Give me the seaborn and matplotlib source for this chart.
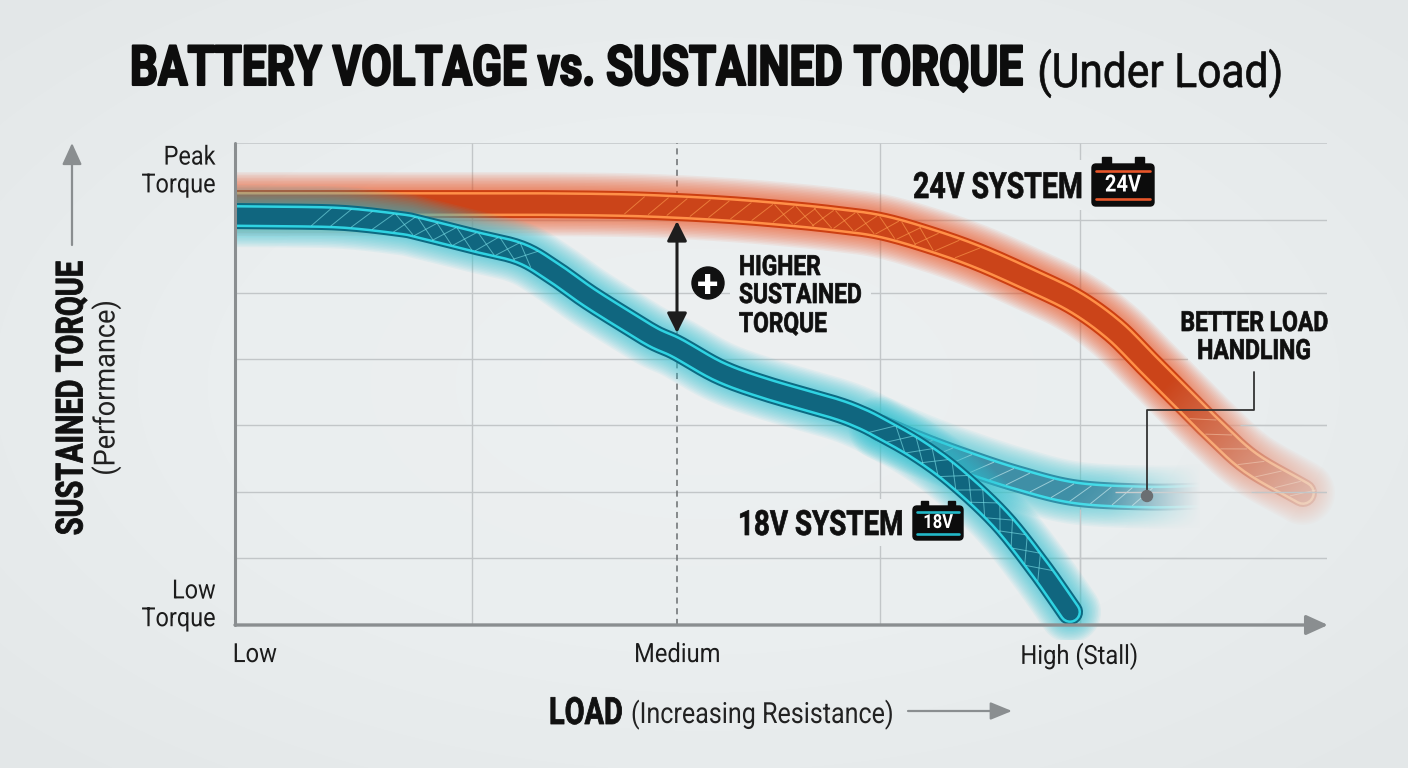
import numpy as np
import matplotlib
matplotlib.use('Agg')
import matplotlib.pyplot as plt
import matplotlib.patheffects as pe
from matplotlib.colors import LinearSegmentedColormap
from matplotlib.collections import LineCollection
from matplotlib.patches import FancyBboxPatch, Rectangle, Circle
from matplotlib.transforms import Affine2D, IdentityTransform, Bbox
import seaborn as sns

# values: load and torque both on a 0-100 scale
load_24v = [0, 8.7, 17.86, 27.01, 35.26, 40.48, 45.33, 49.91, 54.49, 59.07, 63.64, 68.04, 72.8, 76.92, 80.49, 83.52, 86.9, 89.65, 93.04, 97.8]
torque_24v = [87.34, 87.34, 87.34, 87.34, 87.14, 86.72, 86.1, 85.27, 84.23, 82.78, 79.88, 76.35, 71.58, 67.01, 61.2, 54.36, 46.68, 40.46, 33.61, 27.39]

load_18v = [0, 5.04, 10.07, 15.11, 16.94, 21.7, 26.1, 29.12, 32.23, 35.26, 38.28, 40.48, 44.41, 48.72, 54.76, 57.23, 59.07, 62.45, 65.84, 70.05, 73.63, 76.47]
torque_18v = [84.85, 84.75, 84.44, 83.2, 82.37, 79.67, 77.18, 73.24, 68.26, 63.9, 59.75, 57.47, 52.49, 48.96, 45.02, 42.95, 40.87, 36.51, 30.91, 21.99, 11.83, 2.7]

load_18v_fork = [59.07, 62.73, 66.67, 71.7, 77.0, 83.52, 88.65]
torque_18v_fork = [40.87, 37.34, 34.02, 30.29, 27.39, 26.56, 26.76]

grid_load = [21.7, 59.1, 77.4]
grid_medium = 40.5
grid_torque = [84.0, 68.9, 55.2, 41.5, 27.6, 13.9]

x_ticks = [1.8, 40.5, 77.3]
x_tick_labels = ['Low', 'Medium', 'High (Stall)']
y_ticks = [95.0, 5.0]
y_tick_labels = ['Peak\nTorque', 'Low\nTorque']

GRID = '#c2c6c8'
AXIS = '#8a8e90'
INK = '#0f0f0f'

sns.set_theme(style='white')
plt.rcParams['font.family'] = ['Roboto', 'DejaVu Sans']

bg_cmap = LinearSegmentedColormap.from_list('bg', ['#edf0f1', '#eaeeef', '#e3e7e8'])


def bg_rgb(x, y):
    d = np.hypot((x - 704) / 704, (y - 384) / 384) / 1.41
    return bg_cmap(d)[..., :3]


class Narrow(pe.AbstractPathEffect):
    # no condensed face is installed, so squeeze the glyph outlines sideways
    def __init__(self, sx, anchor='left', bold=0.0):
        super().__init__()
        self.sx = sx
        self.anchor = anchor
        self.bold = bold

    def draw_path(self, renderer, gc, tpath, affine, rgbFace=None):
        ext = tpath.get_extents()
        cx = {'left': 0, 'center': (ext.x0 + ext.x1) / 2, 'right': ext.x1}[self.anchor]
        squeezed = Affine2D().translate(-cx, 0).scale(self.sx, 1).translate(cx, 0) + affine
        gc0 = renderer.new_gc()
        gc0.copy_properties(gc)
        if self.bold > 0:
            gc0.set_foreground(rgbFace)
            gc0.set_linewidth(self.bold)
        renderer.draw_path(gc0, tpath, squeezed, rgbFace)
        gc0.restore()


def narrow(t, sx, anchor='left', bold=0.0):
    t.set_path_effects([Narrow(sx, anchor, bold)])
    full = t.get_window_extent
    vertical = t.get_rotation() == 90

    def extent(renderer=None, dpi=None):
        b = full(renderer, dpi)
        lo, hi = (b.y0, b.y1) if vertical else (b.x0, b.x1)
        size = (hi - lo) * sx
        start = {'left': lo, 'center': (lo + hi - size) / 2, 'right': hi - size}[anchor]
        if vertical:
            return Bbox([[b.x0, start], [b.x1, start + size]])
        return Bbox([[start, b.y0], [start + size, b.y1]])

    t.get_window_extent = extent
    return t


fig = plt.figure(figsize=(14.08, 7.68), dpi=100)

bg_ax = fig.add_axes([0, 0, 1, 1], zorder=-1)
yy, xx = np.mgrid[0:768, 0:1408]
bg_ax.imshow(bg_rgb(xx + 0.5, yy + 0.5), aspect='auto', interpolation='nearest')
bg_ax.axis('off')

ax = fig.add_axes([235 / 1408, 1 - 625 / 768, 1092 / 1408, 482 / 768])
ax.patch.set_alpha(0)
ax.set_xlim(0, 100)
ax.set_ylim(0, 100)
ax.autoscale(False)
sns.despine(ax=ax, left=True, bottom=True, top=True, right=True)

# layout positions below are given in picture pixels
px = Affine2D().scale(1, -1).translate(0, 768)


def w(pixels):
    return pixels * 0.72


def smooth(x, y, n=14):
    # rounded drawing path through the read points (catmull-rom)
    p = np.column_stack([x, y])
    p = np.vstack([2 * p[0] - p[1], p, 2 * p[-1] - p[-2]])
    out = []
    for i in range(1, len(p) - 2):
        t = np.linspace(0, 1, n, endpoint=False)[:, None]
        out.append(0.5 * (2 * p[i] + (p[i + 1] - p[i - 1]) * t
                          + (2 * p[i - 1] - 5 * p[i] + 4 * p[i + 1] - p[i + 2]) * t ** 2
                          + (3 * p[i] - p[i - 1] - 3 * p[i + 1] + p[i + 2]) * t ** 3))
    out.append(p[-2][None, :])
    out = np.vstack(out)
    return out[:, 0], out[:, 1]


def tube(x, y, glow, edge, rail, body, width, z):
    clip = Rectangle((236, 130), 1130, 510, transform=px)
    sx, sy = smooth(x, y)
    for i in range(12):
        sns.lineplot(x=sx, y=sy, ax=ax, color=glow, linewidth=w(width + 36 - i * 3), alpha=0.07, sort=False,
                     estimator=None, solid_capstyle='round', zorder=z)
        ax.lines[-1].set_clip_path(clip)
    for color, lw in [(edge, width), (rail, width - 4), (body, width - 9)]:
        sns.lineplot(x=sx, y=sy, ax=ax, color=color, linewidth=w(lw), sort=False, estimator=None,
                     solid_capstyle='round', zorder=z)
        ax.lines[-1].set_clip_path(clip)
    return sx, sy


def hatch(x, y, x0, x1, c0, c1, half, color, z, alpha=0.6):
    pts = ax.transData.transform(np.column_stack([x, y]))
    s = np.r_[0, np.cumsum(np.hypot(*np.diff(pts, axis=0).T))]
    t = np.gradient(pts, axis=0)
    t = t / np.hypot(t[:, 0], t[:, 1])[:, None]
    n = np.column_stack([-t[:, 1], t[:, 0]])
    segs = []
    for sv in np.arange(0, s[-1], 21):
        i = min(np.searchsorted(s, sv), len(s) - 1)
        if x0 <= x[i] <= x1:
            segs.append([pts[i] - n[i] * half - t[i] * half * 1.1, pts[i] + n[i] * half + t[i] * half * 1.1])
            if c0 <= x[i] <= c1:
                segs.append([pts[i] + n[i] * half - t[i] * half * 1.1, pts[i] - n[i] * half + t[i] * half * 1.1])
    ax.add_collection(LineCollection(segs, colors=color, linewidths=0.7, alpha=alpha, zorder=z,
                                     transform=IdentityTransform()), autolim=False)


def overlay(x0, x1, y0, y1, alpha_fn, z):
    # paints the page background back over marks, alpha_fn gives the strength per pixel
    yy, xx = np.mgrid[y0:y1, x0:x1]
    rgba = np.dstack([bg_rgb(xx + 0.5, yy + 0.5), alpha_fn(xx + 0.5, yy + 0.5)])
    extent = [(x0 - 235) / 10.92, (x1 - 235) / 10.92, (625 - y1) / 4.82, (625 - y0) / 4.82]
    ax.imshow(rgba, extent=extent, aspect='auto', zorder=z, clip_on=False, interpolation='nearest')


def solid(xx, yy):
    return np.ones_like(xx, dtype=float)


def fork_fade(xx, yy):
    ramp = np.clip((xx - 1105) / 95, 0, 1) ** 1.3
    taper = np.clip((48 - np.abs(yy - 497)) / 15, 0, 1)
    return ramp * taper


def red_fade(xx, yy):
    u = (xx - 1165) * 0.75 + (yy - 385) * 0.66
    return np.clip(u / 260, 0, 1)


# grid, with the gaps it leaves around the labels
ax.hlines(100, 0, 100, color=GRID, lw=1.1, zorder=1)
ax.hlines(grid_torque, 0, 100, color=GRID, lw=1.0, zorder=1)
ax.vlines(grid_load, 0, 100, color=GRID, lw=1.0, zorder=1)
ax.vlines(grid_medium, 0, 100, color='#6a6e70', lw=1.1, ls=(0, (4, 3)), zorder=1)
overlay(905, 1162, 160, 210, solid, 1.5)
overlay(730, 970, 500, 546, solid, 1.5)
overlay(730, 871, 250, 340, solid, 1.5)
overlay(1188, 1345, 300, 372, solid, 1.5)

# fork of the 18V line, then the 24V line, main 18V line on top
fx, fy = tube(load_18v_fork, torque_18v_fork, '#45cbd8', '#2f8ea6', '#3ddbe8', '#3f8fa6', 27, 2)
hatch(fx, fy, 62, 84, 0, 0, 9, '#d5f4f6', 2.05)
overlay(1105, 1255, 449, 545, fork_fade, 2.1)
ax.hlines(27.6, 80.6, 93, color=GRID, lw=1.0, zorder=2.15)

rx, ry = tube(load_24v, torque_24v, '#f0501e', '#cc3f12', '#ff9048', '#cb4419', 28, 2.2)
hatch(rx, ry, 36, 68, 50, 65, 9, '#ffa050', 2.25)
hatch(rx, ry, 88, 98, 0, 0, 9, '#ffc9a0', 2.25, 0.5)
overlay(1000, 1408, 340, 620, red_fade, 2.6)
ax.hlines(27.6, 93, 100, color=GRID, lw=1.0, zorder=2.7)
ax.hlines(41.5, 92, 100, color=GRID, lw=1.0, zorder=2.7)
ax.hlines(13.9, 70, 100, color=GRID, lw=1.0, zorder=2.7)
ax.vlines(77.4, 0, 24, color=GRID, lw=1.0, zorder=2.7)

mx, my = tube(load_18v, torque_18v, '#30c3d4', '#0d6a82', '#2fd3e2', '#10667f', 26, 3)
hatch(mx, my, 6.5, 28, 15, 28, 9, '#7fe3ea', 3.5)
hatch(mx, my, 58, 74, 60, 74, 9, '#7fe3ea', 3.5)

# axes drawn as arrows
ax.annotate('', xy=(1328, 625), xytext=(235, 625), xycoords=px, textcoords=px, annotation_clip=False, zorder=6,
            arrowprops=dict(arrowstyle='-|>,head_width=0.5,head_length=1.1', color=AXIS, lw=2.4, shrinkA=0, shrinkB=0))
ax.plot([235, 235], [143, 625], color=AXIS, lw=2.2, transform=px, clip_on=False, zorder=6)
ax.annotate('', xy=(72, 143), xytext=(72, 245), xycoords=px, textcoords=px, annotation_clip=False,
            arrowprops=dict(arrowstyle='-|>,head_width=0.5,head_length=1.1', color=AXIS, lw=1.6, shrinkA=0, shrinkB=0))
ax.annotate('', xy=(1012, 711), xytext=(908, 711), xycoords=px, textcoords=px, annotation_clip=False,
            arrowprops=dict(arrowstyle='-|>,head_width=0.45,head_length=1.1', color=AXIS, lw=1.6, shrinkA=0, shrinkB=0))

# ticks
ax.set_xticks(x_ticks)
ax.set_xticklabels(x_tick_labels, fontsize=19, color='#1c1c1c')
ax.set_yticks(y_ticks)
ax.set_yticklabels(y_tick_labels, fontsize=19, color='#1c1c1c', linespacing=1.2, ha='right')
ax.tick_params(axis='x', length=0, pad=13)
ax.tick_params(axis='y', length=0, pad=14)
ax.grid(False)
for t in ax.get_xticklabels():
    narrow(t, 0.9, 'center')
for t in ax.get_yticklabels():
    narrow(t, 0.89, 'right')

# title
narrow(fig.text(130 / 1408, 1 - 85 / 768, 'BATTERY VOLTAGE vs. SUSTAINED TORQUE', fontsize=40, fontweight='bold',
                color='#0d0d0d', ha='left', va='baseline'), 0.79, 'left', 1.5)
narrow(fig.text(1284 / 1408, 1 - 87 / 768, '(Under Load)', fontsize=34, color='#0d0d0d', ha='right', va='baseline'),
       0.9, 'right', 0.5)

# axis titles
narrow(fig.text(72 / 1408, 1 - 398 / 768, 'SUSTAINED TORQUE', fontsize=27, fontweight='bold', rotation=90, color='#111111',
                ha='center', va='center'), 0.77, 'center', 0.6)
narrow(fig.text(106 / 1408, 1 - 388 / 768, '(Performance)', fontsize=21, rotation=90, color='#222222', ha='center', va='center'),
       0.93, 'center')
narrow(fig.text(549 / 1408, 1 - 724 / 768, 'LOAD', fontsize=27, fontweight='bold', color='#111111', ha='left', va='baseline'),
       0.77, 'left', 0.6)
narrow(fig.text(631 / 1408, 1 - 723 / 768, '(Increasing Resistance)', fontsize=21, color='#222222', ha='left', va='baseline'),
       0.86)


# callouts
def label(x, y, s, size, sx, **kw):
    t = ax.text(x, y, s, fontsize=size, fontweight='bold', color=INK, transform=px, clip_on=False, zorder=8,
                va='baseline', **kw)
    narrow(t, sx, kw.get('ha', 'left'), 0.5)


def battery(x, y, width, height, text, stripe, size):
    # x, y is the top left corner of the body
    for tx in (x + width * 0.16, x + width * 0.7):
        ax.add_patch(Rectangle((tx, y - height * 0.16), width * 0.14, height * 0.2, color='#0c0c0c', transform=px,
                               clip_on=False, zorder=8))
    ax.add_patch(FancyBboxPatch((x + 2, y + 2), width - 4, height - 4, boxstyle='round,pad=2,rounding_size=4', color='#0c0c0c',
                                transform=px, clip_on=False, zorder=8))
    for sy in (y + height * 0.17, y + height * 0.83):
        ax.plot([x + 4, x + width - 4], [sy, sy], color=stripe, lw=1.9, transform=px, clip_on=False, zorder=9)
    narrow(ax.text(x + width / 2, y + height / 2, text, fontsize=size, fontweight='bold', color='white', ha='center',
                   va='center', transform=px, clip_on=False, zorder=10), 0.85, 'center')


label(913, 198, '24V SYSTEM', 26, 0.79)
battery(1092, 164, 62, 42, '24V', '#e8562a', 17)
label(738, 535, '18V SYSTEM', 25, 0.8)
battery(913, 506, 50, 34, '18V', '#22b8c8', 14)

label(739, 275, 'HIGHER', 20, 0.82)
label(739, 303, 'SUSTAINED', 20, 0.82)
label(739, 332, 'TORQUE', 20, 0.82)
ax.annotate('', xy=(677, 221), xytext=(677, 333), xycoords=px, textcoords=px, annotation_clip=False, zorder=9,
            arrowprops=dict(arrowstyle='<|-|>,head_width=0.5,head_length=1.0', color='#1d1d1d', lw=2.2, shrinkA=0, shrinkB=0))
ax.add_patch(Circle((708, 283), 16, color='#111111', transform=px, clip_on=False, zorder=9))
ax.text(708, 283, '+', fontsize=28, fontweight='bold', color='white', ha='center', va='center_baseline', transform=px, zorder=10)

label(1254, 331, 'BETTER LOAD', 20, 0.826, ha='center')
label(1254, 359, 'HANDLING', 20, 0.826, ha='center')
ax.plot([1147, 1147, 1254, 1254], [496, 410, 410, 372], color='#333333', lw=1.3, transform=px, clip_on=False, zorder=7)
ax.add_patch(Circle((1147, 496), 5.5, color='#6b6f72', transform=px, clip_on=False, zorder=7))

ax.set_xlim(0, 100)
ax.set_ylim(0, 100)
fig.savefig('out.png', dpi=100)
